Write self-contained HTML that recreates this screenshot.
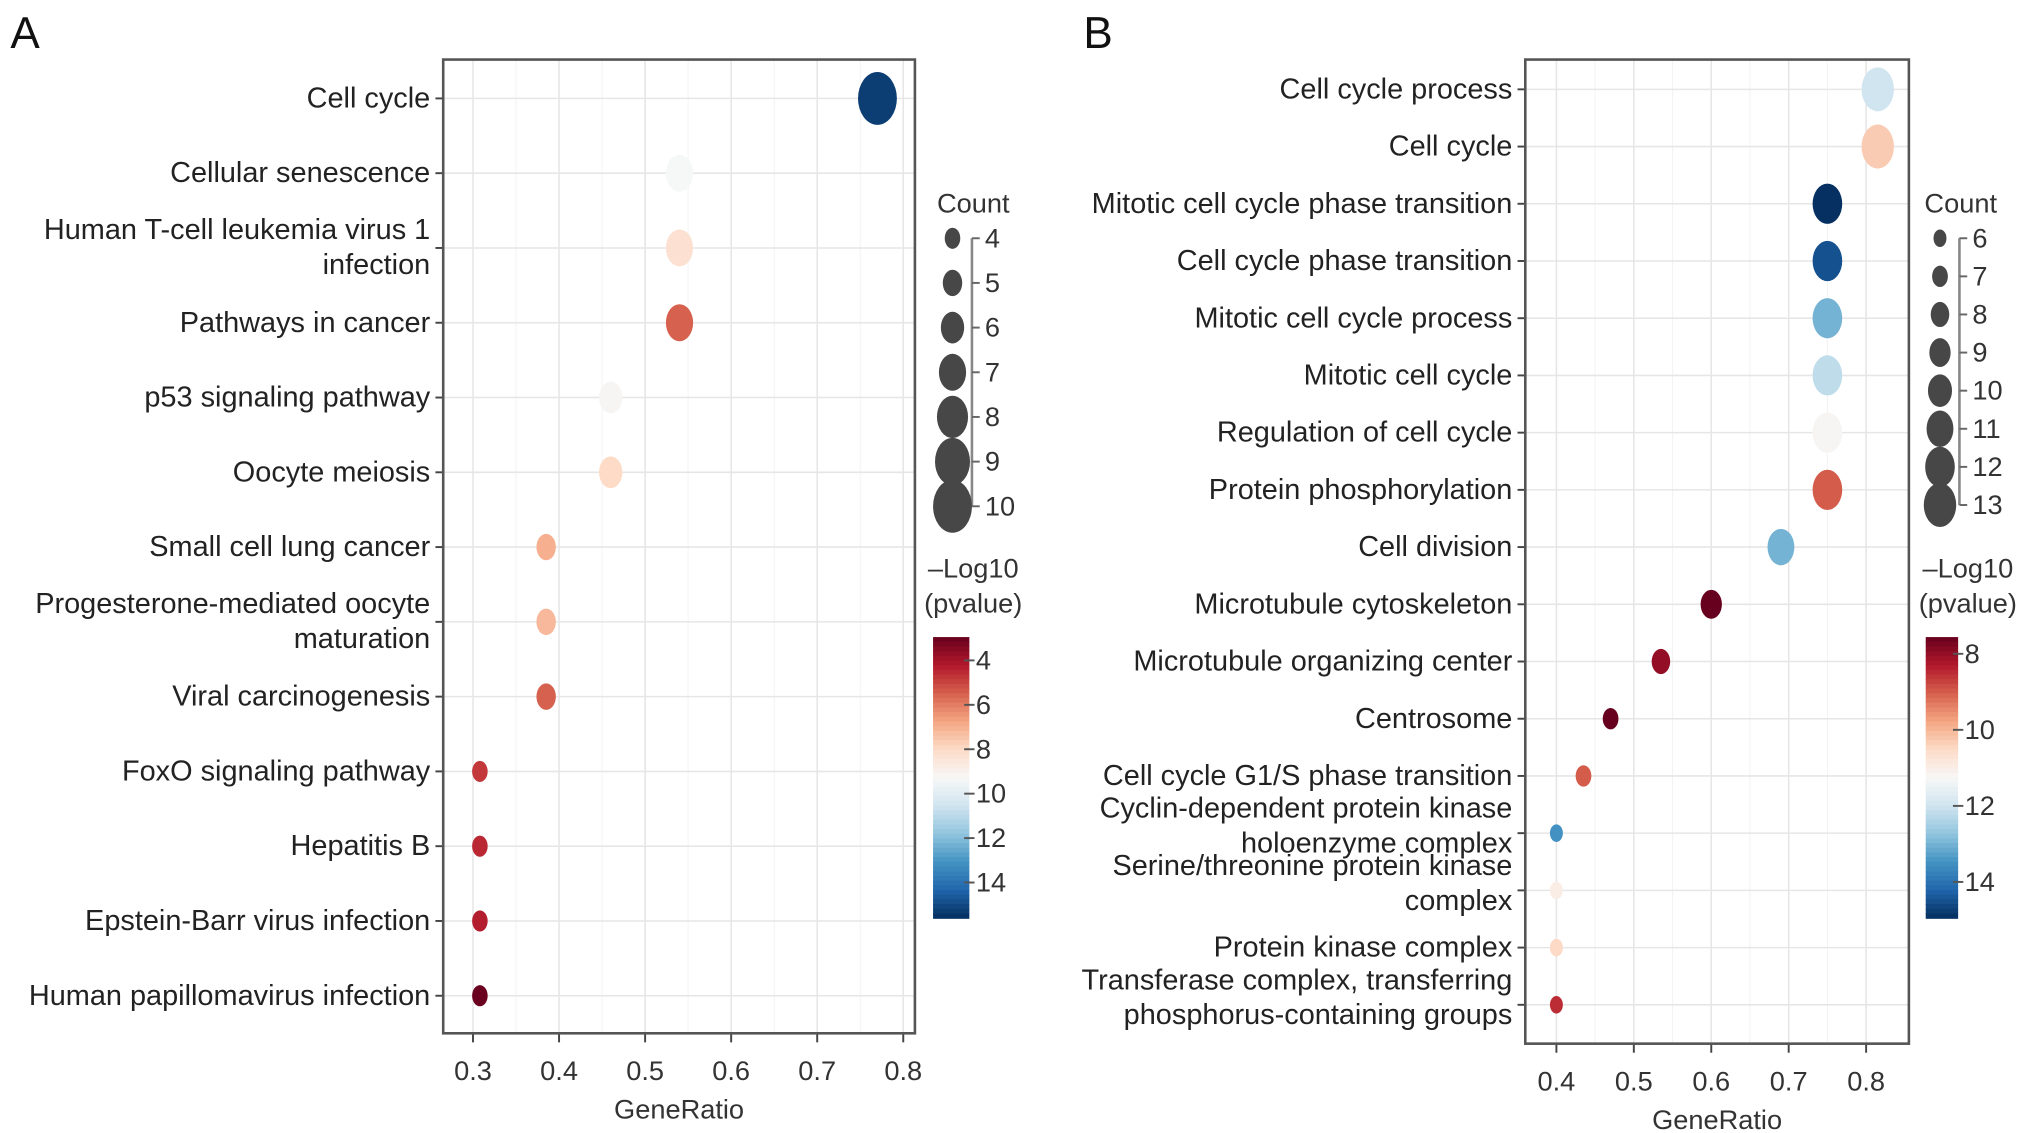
<!DOCTYPE html>
<html><head><meta charset="utf-8"><style>
html,body{margin:0;padding:0;background:#fff;}
svg{display:block;font-family:"Liberation Sans",Arial,sans-serif;}
</style></head><body>
<svg id="fig" width="2032" height="1133" viewBox="0 0 1568 875" preserveAspectRatio="none" xmlns="http://www.w3.org/2000/svg"></svg>
<script>
// ---- Panel A data ----
const catsA = ["Cell cycle","Cellular senescence","Human T-cell leukemia virus 1|infection","Pathways in cancer","p53 signaling pathway","Oocyte meiosis","Small cell lung cancer","Progesterone-mediated oocyte|maturation","Viral carcinogenesis","FoxO signaling pathway","Hepatitis B","Epstein-Barr virus infection","Human papillomavirus infection"];
const ratioA = [0.77,0.54,0.54,0.54,0.46,0.46,0.385,0.385,0.385,0.308,0.308,0.308,0.308];
const countA = [10,7,7,7,6,6,5,5,5,4,4,4,4];
const logpA = [15.3,9.3,8.3,5.5,9.2,8,7,7.2,5.5,4.8,4.5,4.3,3.0];
const xTicksA = [0.3,0.4,0.5,0.6,0.7,0.8];
const sizeTicksA = [4,5,6,7,8,9,10];
const colTicksA = [4,6,8,10,12,14];
// ---- Panel B data ----
const catsB = ["Cell cycle process","Cell cycle","Mitotic cell cycle phase transition","Cell cycle phase transition","Mitotic cell cycle process","Mitotic cell cycle","Regulation of cell cycle","Protein phosphorylation","Cell division","Microtubule cytoskeleton","Microtubule organizing center","Centrosome","Cell cycle G1/S phase transition","Cyclin-dependent protein kinase|holoenzyme complex","Serine/threonine protein kinase|complex","Protein kinase complex","Transferase complex, transferring|phosphorus-containing groups"];
const ratioB = [0.815,0.815,0.75,0.75,0.75,0.75,0.75,0.75,0.69,0.6,0.535,0.47,0.435,0.4,0.4,0.4,0.4];
const countB = [13,13,12,12,12,12,12,12,11,9,8,7,7,6,6,6,6];
const logpB = [12,10.3,15,14.5,13,12.2,11.2,9,13,7.5,8,7.5,9,13.5,11,10.5,8.5];
const xTicksB = [0.4,0.5,0.6,0.7,0.8];
const sizeTicksB = [6,7,8,9,10,11,12,13];
const colTicksB = [8,10,12,14];

const NS="http://www.w3.org/2000/svg";
const svg=document.getElementById('fig');
function mk(tag,attrs,parent){const e=document.createElementNS(NS,tag);for(const k in attrs)e.setAttribute(k,attrs[k]);(parent||svg).appendChild(e);return e;}
const RdBu=["#67001f","#b2182b","#d6604d","#f4a582","#fddbc7","#f7f7f7","#d1e5f0","#92c5de","#4393c3","#2166ac","#053061"];
function hex(c){return [1,3,5].map(i=>parseInt(c.substr(i,2),16));}
function colorAt(t){t=Math.max(0,Math.min(1,t));const p=t*(RdBu.length-1);const i=Math.min(Math.floor(p),RdBu.length-2);const f=p-i;const a=hex(RdBu[i]),b=hex(RdBu[i+1]);return "rgb("+a.map((v,k)=>Math.round(v+(b[k]-v)*f)).join(",")+")";}

function panel(o){
  const g=mk('g',{});
  
  
  const L=o.box[0],T=o.box[1],R=o.box[2],B=o.box[3];
  const xs=v=>o.x0+(v-o.v0)*(o.x1-o.x0)/(o.v1-o.v0);
  const n=o.cats.length;
  const ys=i=>o.yTop+i*(o.yBot-o.yTop)/(n-1);
  const csz=c=>o.d0+(c-o.c0)*(o.d1-o.d0)/(o.c1-o.c0);
  const cy=v=>(v-o.l0)/(o.l1-o.l0);
  mk('rect',{x:L,y:T,width:R-L,height:B-T,fill:"#fff"},g);
  for(let k=0;k<o.xt.length;k++){
    const x=xs(o.xt[k]);
    const gl=mk('line',{x1:x,x2:x,y1:T,y2:B,stroke:"#e6e6e6","stroke-width":1.2},g);
    
    if(k<o.xt.length-1){const xm=xs(o.xt[k]+(o.xt[1]-o.xt[0])/2);mk('line',{x1:xm,x2:xm,y1:T,y2:B,stroke:"#f3f3f3","stroke-width":0.8},g);}
    mk('line',{x1:x,x2:x,y1:B,y2:B+7,stroke:"#444","stroke-width":1.5},g);
    const tl=mk('text',{x:x,y:B+36,"font-size":21,"text-anchor":"middle",fill:"#333"},g);
    tl.textContent=o.xt[k].toFixed(1);
    
  }
  for(let i=0;i<n;i++){
    const y=ys(i);
    mk('line',{x1:L,x2:R,y1:y,y2:y,stroke:"#e6e6e6","stroke-width":1.2},g);
    mk('line',{x1:L-6,x2:L,y1:y,y2:y,stroke:"#444","stroke-width":1.5},g);
    const lines=o.cats[i].split('|');
    const t=mk('text',{"font-size":22.3,"text-anchor":"end",fill:"#222"},g);
    
    lines.forEach((s,j)=>{const ts=mk('tspan',{x:L-10,y:y+7+(lines.length===2?(j===0?o.two[0]:o.two[1]):0)},t);ts.textContent=s;});
  }
  mk('rect',{x:L,y:T,width:R-L,height:B-T,fill:"none",stroke:"#555","stroke-width":2},g);
  for(let i=0;i<n;i++){
    const d=csz(o.counts[i]);
    const e=mk('ellipse',{cx:xs(o.ratios[i]),cy:ys(i),rx:d/2,ry:d*0.68,fill:colorAt(cy(o.logp[i]))},g);
    
    
  }
  const xt=mk('text',{x:(L+R)/2,y:B+66,"font-size":21,"text-anchor":"middle",fill:"#333"},g);
  xt.textContent="GeneRatio";
  
  const pl=mk('text',{x:o.letter[0],y:o.letter[1],"font-size":34,fill:"#111"},g);
  pl.textContent=o.letterText;
  
  const lg=mk('g',{},g);
  
  const ct=mk('text',{x:o.sl.x-12,y:o.sl.titleY,"font-size":21,fill:"#333"},lg);ct.textContent="Count";
  const st=o.st;
  const ly=c=>o.sl.y0+(c-st[0])*(o.sl.y1-o.sl.y0)/(st[st.length-1]-st[0]);
  mk('line',{x1:o.sl.x+15,x2:o.sl.x+15,y1:ly(st[0]),y2:ly(st[st.length-1]),stroke:"#888","stroke-width":2},lg);
  st.forEach(c=>{
    const y=ly(c),d=csz(c);
    const le=mk('ellipse',{cx:o.sl.x,cy:y,rx:d/2,ry:d*0.68,fill:"#474747"},lg);
    
    mk('line',{x1:o.sl.x+15,x2:o.sl.x+21,y1:y,y2:y,stroke:"#666","stroke-width":1.5},lg);
    const tx=mk('text',{x:o.sl.x+25,y:y+7,"font-size":21,fill:"#333"},lg);tx.textContent=c;
  });
  const cb=mk('g',{},g);
  
  const cx=o.cb.x+o.cb.w/2+o.cb.tdx;
  const t1=mk('text',{x:cx,y:o.cb.top-46,"font-size":21,"text-anchor":"middle",fill:"#333"},cb);t1.textContent="\u2013Log10";
  const t2=mk('text',{x:cx,y:o.cb.top-19,"font-size":21,"text-anchor":"middle",fill:"#333"},cb);t2.textContent="(pvalue)";
  const N=60,h=(o.cb.bot-o.cb.top)/N;
  for(let k=0;k<N;k++){mk('rect',{x:o.cb.x,y:o.cb.top+k*h,width:o.cb.w,height:h+0.6,fill:colorAt((k+0.5)/N)},cb);}
  const cyv=v=>o.cb.top+(v-o.l0)/(o.l1-o.l0)*(o.cb.bot-o.cb.top);
  o.ct.forEach(v=>{const y=cyv(v);
    mk('line',{x1:o.cb.x+o.cb.w-4,x2:o.cb.x+o.cb.w+4,y1:y,y2:y,stroke:"#555","stroke-width":1.5},cb);
    const tx=mk('text',{x:o.cb.x+o.cb.w+5,y:y+7,"font-size":21,fill:"#333"},cb);tx.textContent=v;});
}
panel({name:'panel-a',letterText:'A',letter:[8,37],box:[342,46,706,798],x0:365,x1:697,v0:0.3,v1:0.8,yTop:76,yBot:769,
  cats:catsA,ratios:ratioA,counts:countA,logp:logpA,xt:xTicksA,st:sizeTicksA,ct:colTicksA,two:[-14,13],
  c0:4,c1:10,d0:12,d1:30,l0:2.95,l1:15.6,
  sl:{x:735,y0:184,y1:391,titleY:164},cb:{x:720,w:28,top:492,bot:709,tdx:17}});
panel({name:'panel-b',letterText:'B',letter:[836,37],box:[1177,46,1473,806],x0:1201,x1:1440,v0:0.4,v1:0.8,yTop:69,yBot:776,
  cats:catsB,ratios:ratioB,counts:countB,logp:logpB,xt:xTicksB,st:sizeTicksB,ct:colTicksB,two:[-19,8],
  c0:6,c1:13,d0:10,d1:25,l0:7.56,l1:14.95,
  sl:{x:1497,y0:184,y1:390,titleY:164},cb:{x:1486,w:25,top:492,bot:709,tdx:20}});
</script>
</body></html>
